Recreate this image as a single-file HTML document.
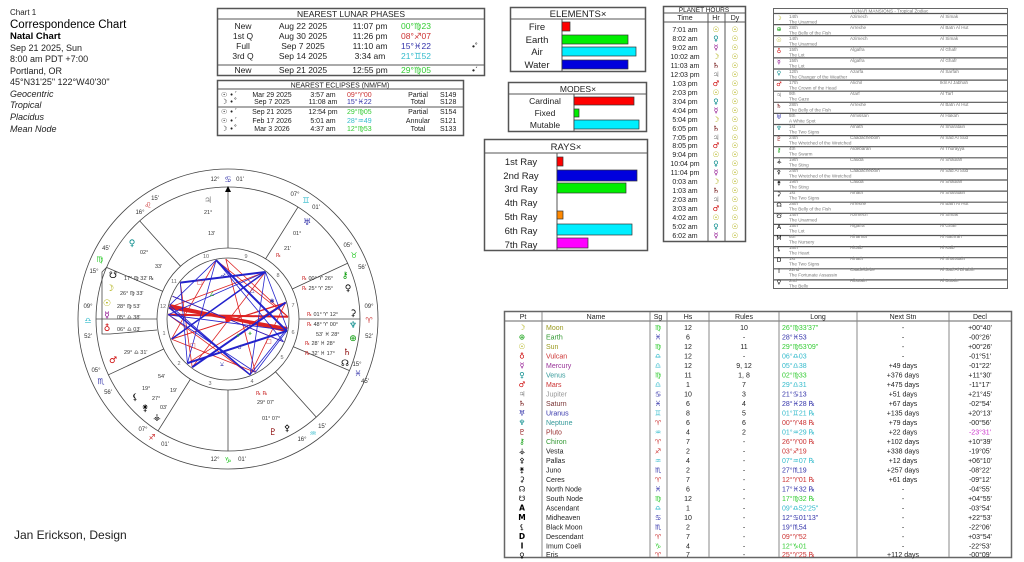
<!DOCTYPE html>
<html><head><meta charset="utf-8"><style>
html,body{margin:0;padding:0;background:#fff;}
svg{display:block;font-family:"Liberation Sans","DejaVu Sans",sans-serif;}
.g{font-family:"DejaVu Sans",sans-serif;}
</style></head><body>
<svg width="1024" height="562" viewBox="0 0 1024 562" xmlns="http://www.w3.org/2000/svg">
<rect width="1024" height="562" fill="#fff"/>
<!-- left info -->
<g fill="#222" font-size="9">
<text x="10" y="15" font-size="8">Chart 1</text>
<text x="10" y="28" font-size="11.5" fill="#000">Correspondence Chart</text>
<text x="10" y="39" font-size="9.5" font-weight="bold" fill="#000">Natal Chart</text>
<text x="10" y="51">Sep 21 2025, Sun</text>
<text x="10" y="62">8:00 am  PDT +7:00</text>
<text x="10" y="74">Portland, OR</text>
<text x="10" y="85">45°N31'25" 122°W40'30"</text>
<g font-style="italic"><text x="10" y="97">Geocentric</text><text x="10" y="108">Tropical</text><text x="10" y="120">Placidus</text><text x="10" y="132">Mean Node</text></g>
<text x="14" y="539" font-size="12">Jan Erickson, Design</text>
</g>

<!-- Lunar phases -->
<g font-size="8.5" fill="#222">
<rect x="217.5" y="8.5" width="267" height="67" fill="#fff" stroke="#555" stroke-width="1.5"/>
<line x1="217" y1="19" x2="485" y2="19" stroke="#555"/>
<line x1="217" y1="65" x2="485" y2="65" stroke="#555"/>
<text x="351" y="17" text-anchor="middle">NEAREST LUNAR PHASES</text>
<g text-anchor="middle">
<text x="243" y="29">New</text><text x="303" y="29">Aug 22 2025</text><text x="370" y="29">11:07 pm</text>
<text x="243" y="39">1st Q</text><text x="303" y="39">Aug 30 2025</text><text x="370" y="39">11:26 pm</text>
<text x="243" y="49">Full</text><text x="303" y="49">Sep 7 2025</text><text x="370" y="49">11:10 am</text>
<text x="243" y="59">3rd Q</text><text x="303" y="59">Sep 14 2025</text><text x="370" y="59">3:34 am</text>
<text x="243" y="73">New</text><text x="303" y="73">Sep 21 2025</text><text x="370" y="73">12:55 pm</text>
</g>
<text x="401" y="29" fill="#3c3">00°♍23</text>
<text x="401" y="39" fill="#c33">08°♐07</text>
<text x="401" y="49" fill="#33a">15°♓22</text>
<text x="401" y="59" fill="#3bc">21°♊52</text>
<text x="401" y="73" fill="#3c3">29°♍05</text>
<text x="472" y="49">•˚</text><text x="472" y="73">•ˊ</text>
</g>

<!-- Eclipses -->
<g font-size="7" fill="#222">
<rect x="217.5" y="80.5" width="246" height="55" fill="#fff" stroke="#555" stroke-width="1.5"/>
<line x1="217" y1="89" x2="464" y2="89" stroke="#555"/>
<line x1="217" y1="107" x2="464" y2="107" stroke="#555"/>
<text x="340" y="87.5" text-anchor="middle">NEAREST ECLIPSES (NM/FM)</text>
<g class="g"><text x="221" y="97">☉ •ˊ</text><text x="221" y="104">☽ •˚</text><text x="221" y="114">☉ •ˊ</text><text x="221" y="123">☉ •ˊ</text><text x="221" y="131">☽ •˚</text></g>
<g text-anchor="middle"><text x="272" y="97">Mar 29 2025</text><text x="272" y="104">Sep 7 2025</text><text x="272" y="114">Sep 21 2025</text><text x="272" y="123">Feb 17 2026</text><text x="272" y="131">Mar 3 2026</text>
<text x="323" y="97">3:57 am</text><text x="323" y="104">11:08 am</text><text x="323" y="114">12:54 pm</text><text x="323" y="123">5:01 am</text><text x="323" y="131">4:37 am</text>
<text x="418" y="97">Partial</text><text x="418" y="104">Total</text><text x="418" y="114">Partial</text><text x="418" y="123">Annular</text><text x="418" y="131">Total</text></g>
<text x="347" y="97" fill="#c33">09°♈00</text><text x="347" y="104" fill="#33a">15°♓22</text><text x="347" y="114" fill="#3c3">29°♍05</text><text x="347" y="123" fill="#3bc">28°♒49</text><text x="347" y="131" fill="#3c3">12°♍53</text>
<text x="440" y="97">S149</text><text x="440" y="104">S128</text><text x="440" y="114">S154</text><text x="440" y="123">S121</text><text x="440" y="131">S133</text>
</g>

<!-- Elements -->
<g font-size="9.5" fill="#222">
<rect x="510.5" y="7.5" width="135" height="64" fill="#fff" stroke="#555" stroke-width="1.5"/>
<line x1="510" y1="19" x2="646" y2="19" stroke="#555"/><line x1="562" y1="19" x2="562" y2="72" stroke="#555"/>
<text x="578" y="17" text-anchor="middle">ELEMENTS×</text>
<g text-anchor="middle"><text x="537" y="30">Fire</text><text x="537" y="43">Earth</text><text x="537" y="55">Air</text><text x="537" y="68">Water</text></g>
<g stroke="#333" stroke-width=".7"><rect x="562" y="22" width="8" height="9" fill="#f00"/><rect x="562" y="35" width="66" height="9" fill="#0e0"/><rect x="562" y="47" width="74" height="9" fill="#0ef"/><rect x="562" y="60" width="66" height="9" fill="#00d"/></g>
</g>
<!-- Modes -->
<g font-size="8.5" fill="#222">
<rect x="508.5" y="82.5" width="138" height="49" fill="#fff" stroke="#555" stroke-width="1.5"/>
<line x1="508" y1="94" x2="647" y2="94" stroke="#555"/><line x1="574" y1="94" x2="574" y2="131" stroke="#555"/>
<text x="578" y="92" text-anchor="middle">MODES×</text>
<g text-anchor="middle"><text x="545" y="104">Cardinal</text><text x="545" y="116">Fixed</text><text x="545" y="128">Mutable</text></g>
<g stroke="#333" stroke-width=".7"><rect x="574" y="97" width="60" height="8" fill="#f00"/><rect x="574" y="109" width="5" height="8" fill="#0e0"/><rect x="574" y="120" width="65" height="9" fill="#0ef"/></g>
</g>
<!-- Rays -->
<g font-size="9.5" fill="#222">
<rect x="484.5" y="139.5" width="163" height="111" fill="#fff" stroke="#555" stroke-width="1.5"/>
<line x1="484" y1="153" x2="648" y2="153" stroke="#555"/><line x1="557" y1="153" x2="557" y2="251" stroke="#555"/>
<text x="566" y="150" text-anchor="middle">RAYS×</text>
<g text-anchor="middle"><text x="521" y="165">1st Ray</text><text x="521" y="179">2nd Ray</text><text x="521" y="192">3rd Ray</text><text x="521" y="206">4th Ray</text><text x="521" y="220">5th Ray</text><text x="521" y="234">6th Ray</text><text x="521" y="248">7th Ray</text></g>
<g stroke="#333" stroke-width=".7"><rect x="557" y="157" width="6" height="9" fill="#f00"/><rect x="557" y="170" width="80" height="11" fill="#00d"/><rect x="557" y="183" width="69" height="10" fill="#0e0"/><rect x="557" y="211" width="6" height="8" fill="#f80"/><rect x="557" y="224" width="75" height="11" fill="#0ef"/><rect x="557" y="238" width="31" height="10" fill="#f0f"/></g>
</g>

<!-- Planet hours -->
<g font-size="7" fill="#222">
<rect x="663.5" y="6.5" width="82" height="235" fill="#fff" stroke="#555" stroke-width="1.5"/>
<line x1="663" y1="13" x2="746" y2="13" stroke="#555"/><line x1="663" y1="22" x2="746" y2="22" stroke="#555"/>
<line x1="708" y1="13" x2="708" y2="241" stroke="#555"/><line x1="725" y1="13" x2="725" y2="241" stroke="#555"/>
<text x="704" y="12" text-anchor="middle" font-size="6.5">PLANET HOURS</text>
<text x="685" y="20" text-anchor="middle">Time</text><text x="716" y="20" text-anchor="middle">Hr</text><text x="735" y="20" text-anchor="middle">Dy</text>
<g text-anchor="middle">
<text x="685" y="32">7:01 am</text><text x="685" y="41">8:02 am</text><text x="685" y="50">9:02 am</text><text x="685" y="59">10:02 am</text><text x="685" y="68">11:03 am</text><text x="685" y="77">12:03 pm</text><text x="685" y="86">1:03 pm</text><text x="685" y="95">2:03 pm</text><text x="685" y="104">3:04 pm</text><text x="685" y="113">4:04 pm</text><text x="685" y="122">5:04 pm</text><text x="685" y="131">6:05 pm</text><text x="685" y="140">7:05 pm</text><text x="685" y="148">8:05 pm</text><text x="685" y="157">9:04 pm</text><text x="685" y="166">10:04 pm</text><text x="685" y="175">11:04 pm</text><text x="685" y="184">0:03 am</text><text x="685" y="193">1:03 am</text><text x="685" y="202">2:03 am</text><text x="685" y="211">3:03 am</text><text x="685" y="220">4:02 am</text><text x="685" y="229">5:02 am</text><text x="685" y="238">6:02 am</text>
</g>
<g class="g" text-anchor="middle" font-size="7.5">
<text x="716" y="32" fill="#aa0">☉</text><text x="716" y="41" fill="#088">♀</text><text x="716" y="50" fill="#808">☿</text><text x="716" y="59" fill="#aa0">☽</text><text x="716" y="68" fill="#600">♄</text><text x="716" y="77" fill="#888">♃</text><text x="716" y="86" fill="#c00">♂</text>
<text x="716" y="95" fill="#aa0">☉</text><text x="716" y="104" fill="#088">♀</text><text x="716" y="113" fill="#808">☿</text><text x="716" y="122" fill="#aa0">☽</text><text x="716" y="131" fill="#600">♄</text><text x="716" y="140" fill="#888">♃</text><text x="716" y="148" fill="#c00">♂</text>
<text x="716" y="157" fill="#aa0">☉</text><text x="716" y="166" fill="#088">♀</text><text x="716" y="175" fill="#808">☿</text><text x="716" y="184" fill="#aa0">☽</text><text x="716" y="193" fill="#600">♄</text><text x="716" y="202" fill="#888">♃</text><text x="716" y="211" fill="#c00">♂</text>
<text x="716" y="220" fill="#aa0">☉</text><text x="716" y="229" fill="#088">♀</text><text x="716" y="238" fill="#808">☿</text>
</g>
<g class="g" text-anchor="middle" font-size="7.5" fill="#aa0">
<text x="735" y="32">☉</text><text x="735" y="41">☉</text><text x="735" y="50">☉</text><text x="735" y="59">☉</text><text x="735" y="68">☉</text><text x="735" y="77">☉</text><text x="735" y="86">☉</text><text x="735" y="95">☉</text><text x="735" y="104">☉</text><text x="735" y="113">☉</text><text x="735" y="122">☉</text><text x="735" y="131">☉</text><text x="735" y="140">☉</text><text x="735" y="148">☉</text><text x="735" y="157">☉</text><text x="735" y="166">☉</text><text x="735" y="175">☉</text><text x="735" y="184">☉</text><text x="735" y="193">☉</text><text x="735" y="202">☉</text><text x="735" y="211">☉</text><text x="735" y="220">☉</text><text x="735" y="229">☉</text><text x="735" y="238">☉</text>
</g>
</g>

<!-- Lunar mansions -->
<g font-size="4.6" fill="#777">
<rect x="773.5" y="8.5" width="234" height="280" fill="#fff" stroke="#666"/>
<text x="890" y="12.5" text-anchor="middle">LUNAR MANSIONS - Tropical Zodiac</text>
<g stroke="#555" stroke-width="1.2">
<line x1="774" y1="13.5" x2="1007" y2="13.5"/><line x1="774" y1="24.6" x2="1007" y2="24.6"/><line x1="774" y1="35.7" x2="1007" y2="35.7"/><line x1="774" y1="46.8" x2="1007" y2="46.8"/><line x1="774" y1="57.9" x2="1007" y2="57.9"/><line x1="774" y1="69" x2="1007" y2="69"/><line x1="774" y1="80.1" x2="1007" y2="80.1"/><line x1="774" y1="91.2" x2="1007" y2="91.2"/><line x1="774" y1="102.3" x2="1007" y2="102.3"/><line x1="774" y1="113.4" x2="1007" y2="113.4"/><line x1="774" y1="124.5" x2="1007" y2="124.5"/><line x1="774" y1="135.6" x2="1007" y2="135.6"/><line x1="774" y1="146.7" x2="1007" y2="146.7"/><line x1="774" y1="157.8" x2="1007" y2="157.8"/><line x1="774" y1="168.9" x2="1007" y2="168.9"/><line x1="774" y1="180" x2="1007" y2="180"/><line x1="774" y1="191.1" x2="1007" y2="191.1"/><line x1="774" y1="202.2" x2="1007" y2="202.2"/><line x1="774" y1="213.3" x2="1007" y2="213.3"/><line x1="774" y1="224.4" x2="1007" y2="224.4"/><line x1="774" y1="235.5" x2="1007" y2="235.5"/><line x1="774" y1="246.6" x2="1007" y2="246.6"/><line x1="774" y1="257.7" x2="1007" y2="257.7"/><line x1="774" y1="268.8" x2="1007" y2="268.8"/><line x1="774" y1="279.9" x2="1007" y2="279.9"/>
</g>
<g class="g" font-size="6" text-anchor="middle">
<text x="779" y="20" fill="#aa0">☽</text><text x="779" y="31" fill="#090">⊕</text><text x="779" y="42" fill="#aa0">☉</text><text x="779" y="53" fill="#c00">♁</text><text x="779" y="64" fill="#808">☿</text><text x="779" y="75" fill="#088">♀</text><text x="779" y="86" fill="#c00">♂</text><text x="779" y="97" fill="#888">♃</text><text x="779" y="108" fill="#600">♄</text><text x="779" y="119" fill="#33a">♅</text><text x="779" y="130" fill="#088">♆</text><text x="779" y="141" fill="#800">♇</text><text x="779" y="152" fill="#090">⚷</text><text x="779" y="163" fill="#000">⚶</text><text x="779" y="174" fill="#000">⚴</text><text x="779" y="185" fill="#000">⚵</text><text x="779" y="196" fill="#000">⚳</text><text x="779" y="207" fill="#000">☊</text><text x="779" y="218" fill="#000">☋</text><text x="779" y="229" fill="#000">A</text><text x="779" y="240" fill="#000">M</text><text x="779" y="251" fill="#000">⚸</text><text x="779" y="262" fill="#000">D</text><text x="779" y="273" fill="#000">I</text><text x="779" y="284" fill="#000">♀</text>
</g>
<g>
<text x="789" y="18">14th</text><text x="850" y="18">Azimech</text><text x="940" y="18">Al Simak</text><text x="789" y="23.5">The Unarmed</text>
<text x="789" y="29">28th</text><text x="850" y="29">Arrexhe</text><text x="940" y="29">Al Batn Al Hut</text><text x="789" y="34.5">The Belly of the Fish</text>
<text x="789" y="40">14th</text><text x="850" y="40">Azimech</text><text x="940" y="40">Al Simak</text><text x="789" y="45.5">The Unarmed</text>
<text x="789" y="51">15th</text><text x="850" y="51">Algafra</text><text x="940" y="51">Al Ghafr</text><text x="789" y="56.5">The Lot</text>
<text x="789" y="62">15th</text><text x="850" y="62">Algafra</text><text x="940" y="62">Al Ghafr</text><text x="789" y="67.5">The Lot</text>
<text x="789" y="73">12th</text><text x="850" y="73">Azarfa</text><text x="940" y="73">Al Sarfah</text><text x="789" y="78.5">The Changer of the Weather</text>
<text x="789" y="84">17th</text><text x="850" y="84">Alichil</text><text x="940" y="84">Iklil Al Jabhah</text><text x="789" y="89.5">The Crown of the Head</text>
<text x="789" y="95">9th</text><text x="850" y="95">Atarf</text><text x="940" y="95">Al Tarf</text><text x="789" y="100.5">The Gaze</text>
<text x="789" y="106">28th</text><text x="850" y="106">Arrexhe</text><text x="940" y="106">Al Batn Al Hut</text><text x="789" y="111.5">The Belly of the Fish</text>
<text x="789" y="117">5th</text><text x="850" y="117">Almissan</text><text x="940" y="117">Al Hakah</text><text x="789" y="122.5">A White Spot</text>
<text x="789" y="128">1st</text><text x="850" y="128">Alnath</text><text x="940" y="128">Al Sharatain</text><text x="789" y="133.5">The Two Signs</text>
<text x="789" y="139">24th</text><text x="850" y="139">Caadachebolh</text><text x="940" y="139">Al Sad Al Sud</text><text x="789" y="144.5">The Wretched of the Wretched</text>
<text x="789" y="150">4th</text><text x="850" y="150">Aldebaran</text><text x="940" y="150">Al Thurayya</text><text x="789" y="155.5">The Swarm</text>
<text x="789" y="161">19th</text><text x="850" y="161">Cauda</text><text x="940" y="161">Al Shaulah</text><text x="789" y="166.5">The Sting</text>
<text x="789" y="172">24th</text><text x="850" y="172">Caadachebolh</text><text x="940" y="172">Al Sad Al Sud</text><text x="789" y="177.5">The Wretched of the Wretched</text>
<text x="789" y="183">19th</text><text x="850" y="183">Cauda</text><text x="940" y="183">Al Shaulah</text><text x="789" y="188.5">The Sting</text>
<text x="789" y="194">1st</text><text x="850" y="194">Alnath</text><text x="940" y="194">Al Sharatain</text><text x="789" y="199.5">The Two Signs</text>
<text x="789" y="205">28th</text><text x="850" y="205">Arrexhe</text><text x="940" y="205">Al Batn Al Hut</text><text x="789" y="210.5">The Belly of the Fish</text>
<text x="789" y="216">14th</text><text x="850" y="216">Azimech</text><text x="940" y="216">Al Simak</text><text x="789" y="221.5">The Unarmed</text>
<text x="789" y="227">15th</text><text x="850" y="227">Algafra</text><text x="940" y="227">Al Ghafr</text><text x="789" y="232.5">The Lot</text>
<text x="789" y="238">6th</text><text x="850" y="238">Alhanna</text><text x="940" y="238">Al Nathrah</text><text x="789" y="243.5">The Nursery</text>
<text x="789" y="249">18th</text><text x="850" y="249">Alcalb</text><text x="940" y="249">Al Kalb</text><text x="789" y="254.5">The Heart</text>
<text x="789" y="260">1st</text><text x="850" y="260">Alnath</text><text x="940" y="260">Al Sharatain</text><text x="789" y="265.5">The Two Signs</text>
<text x="789" y="271">22nd</text><text x="850" y="271">Caadeldebe</text><text x="940" y="271">Al Sad Al Dhabih</text><text x="789" y="276.5">The Fortunate Assassin</text>
<text x="789" y="282">2nd</text><text x="850" y="282">Albotain</text><text x="940" y="282">Al Butain</text><text x="789" y="287.5">The Belly</text>
</g>
</g>

<!-- Planet table -->
<g font-size="7" fill="#222">
<rect x="504.5" y="311.5" width="507" height="246" fill="#fff" stroke="#666" stroke-width="1.5"/>
<line x1="504" y1="321" x2="1012" y2="321" stroke="#666"/>
<g stroke="#888"><line x1="542" y1="312" x2="542" y2="557"/><line x1="650" y1="312" x2="650" y2="557"/><line x1="667" y1="312" x2="667" y2="557"/><line x1="709" y1="312" x2="709" y2="557"/><line x1="779" y1="312" x2="779" y2="557"/><line x1="857" y1="312" x2="857" y2="557"/><line x1="949" y1="312" x2="949" y2="557"/></g>
<g text-anchor="middle"><text x="523" y="319">Pt</text><text x="596" y="319">Name</text><text x="658" y="319">Sg</text><text x="688" y="319">Hs</text><text x="744" y="319">Rules</text><text x="818" y="319">Long</text><text x="903" y="319">Next Stn</text><text x="980" y="319">Decl</text></g>
<g class="g" text-anchor="middle" font-size="7.5">
<text x="522" y="330" fill="#aa0">☽</text><text x="522" y="339.5" fill="#090">⊕</text><text x="522" y="349" fill="#aa0">☉</text><text x="522" y="358.5" fill="#c00">♁</text><text x="522" y="368" fill="#808">☿</text><text x="522" y="377.5" fill="#088">♀</text><text x="522" y="387" fill="#c00">♂</text><text x="522" y="396.5" fill="#888">♃</text><text x="522" y="406" fill="#600">♄</text><text x="522" y="415.5" fill="#33a">♅</text><text x="522" y="425" fill="#088">♆</text><text x="522" y="434.5" fill="#800">♇</text><text x="522" y="444" fill="#090">⚷</text><text x="522" y="453.5" fill="#000">⚶</text><text x="522" y="463" fill="#000">⚴</text><text x="522" y="472.5" fill="#000">⚵</text><text x="522" y="482" fill="#000">⚳</text><text x="522" y="491.5" fill="#000">☊</text><text x="522" y="501" fill="#000">☋</text><text x="522" y="510.5" fill="#000" font-weight="bold">A</text><text x="522" y="520" fill="#000" font-weight="bold">M</text><text x="522" y="529.5" fill="#000">⚸</text><text x="522" y="539" fill="#000" font-weight="bold">D</text><text x="522" y="548.5" fill="#000" font-weight="bold">I</text><text x="522" y="558" fill="#000">♀</text>
</g>
<g>
<text x="546" y="330" fill="#9a9a20">Moon</text><text x="546" y="339.5" fill="#393">Earth</text><text x="546" y="349" fill="#9a9a20">Sun</text><text x="546" y="358.5" fill="#c33">Vulcan</text><text x="546" y="368" fill="#939">Mercury</text><text x="546" y="377.5" fill="#399">Venus</text><text x="546" y="387" fill="#c33">Mars</text><text x="546" y="396.5" fill="#999">Jupiter</text><text x="546" y="406" fill="#733">Saturn</text><text x="546" y="415.5" fill="#33a">Uranus</text><text x="546" y="425" fill="#399">Neptune</text><text x="546" y="434.5" fill="#933">Pluto</text><text x="546" y="444" fill="#393">Chiron</text><text x="546" y="453.5">Vesta</text><text x="546" y="463">Pallas</text><text x="546" y="472.5">Juno</text><text x="546" y="482">Ceres</text><text x="546" y="491.5">North Node</text><text x="546" y="501">South Node</text><text x="546" y="510.5">Ascendant</text><text x="546" y="520">Midheaven</text><text x="546" y="529.5">Black Moon</text><text x="546" y="539">Descendant</text><text x="546" y="548.5">Imum Coeli</text><text x="546" y="558" dy="-1">Eris</text>
</g>
<g class="g" text-anchor="middle">
<text x="658" y="330" fill="#3c3">♍</text><text x="658" y="339.5" fill="#33a">♓</text><text x="658" y="349" fill="#3c3">♍</text><text x="658" y="358.5" fill="#3bc">♎</text><text x="658" y="368" fill="#3bc">♎</text><text x="658" y="377.5" fill="#3c3">♍</text><text x="658" y="387" fill="#3bc">♎</text><text x="658" y="396.5" fill="#33a">♋</text><text x="658" y="406" fill="#33a">♓</text><text x="658" y="415.5" fill="#3bc">♊</text><text x="658" y="425" fill="#c33">♈</text><text x="658" y="434.5" fill="#3bc">♒</text><text x="658" y="444" fill="#c33">♈</text><text x="658" y="453.5" fill="#c33">♐</text><text x="658" y="463" fill="#3bc">♒</text><text x="658" y="472.5" fill="#33a">♏</text><text x="658" y="482" fill="#c33">♈</text><text x="658" y="491.5" fill="#33a">♓</text><text x="658" y="501" fill="#3c3">♍</text><text x="658" y="510.5" fill="#3bc">♎</text><text x="658" y="520" fill="#33a">♋</text><text x="658" y="529.5" fill="#33a">♏</text><text x="658" y="539" fill="#c33">♈</text><text x="658" y="548.5" fill="#3c3">♑</text><text x="658" y="557" fill="#c33">♈</text>
</g>
<g text-anchor="middle">
<text x="688" y="330">12</text><text x="688" y="339.5">6</text><text x="688" y="349">12</text><text x="688" y="358.5">12</text><text x="688" y="368">12</text><text x="688" y="377.5">11</text><text x="688" y="387">1</text><text x="688" y="396.5">10</text><text x="688" y="406">6</text><text x="688" y="415.5">8</text><text x="688" y="425">6</text><text x="688" y="434.5">4</text><text x="688" y="444">7</text><text x="688" y="453.5">2</text><text x="688" y="463">4</text><text x="688" y="472.5">2</text><text x="688" y="482">7</text><text x="688" y="491.5">6</text><text x="688" y="501">12</text><text x="688" y="510.5">1</text><text x="688" y="520">10</text><text x="688" y="529.5">2</text><text x="688" y="539">7</text><text x="688" y="548.5">4</text><text x="688" y="557">7</text>
<text x="744" y="330">10</text><text x="744" y="339.5">-</text><text x="744" y="349">11</text><text x="744" y="358.5">-</text><text x="744" y="368">9, 12</text><text x="744" y="377.5">1, 8</text><text x="744" y="387">7</text><text x="744" y="396.5">3</text><text x="744" y="406">4</text><text x="744" y="415.5">5</text><text x="744" y="425">6</text><text x="744" y="434.5">2</text><text x="744" y="444">-</text><text x="744" y="453.5">-</text><text x="744" y="463">-</text><text x="744" y="472.5">-</text><text x="744" y="482">-</text><text x="744" y="491.5">-</text><text x="744" y="501">-</text><text x="744" y="510.5">-</text><text x="744" y="520">-</text><text x="744" y="529.5">-</text><text x="744" y="539">-</text><text x="744" y="548.5">-</text><text x="744" y="557">-</text>
<text x="903" y="330">-</text><text x="903" y="339.5">-</text><text x="903" y="349">-</text><text x="903" y="358.5">-</text><text x="903" y="368">+49 days</text><text x="903" y="377.5">+376 days</text><text x="903" y="387">+475 days</text><text x="903" y="396.5">+51 days</text><text x="903" y="406">+67 days</text><text x="903" y="415.5">+135 days</text><text x="903" y="425">+79 days</text><text x="903" y="434.5">+22 days</text><text x="903" y="444">+102 days</text><text x="903" y="453.5">+338 days</text><text x="903" y="463">+12 days</text><text x="903" y="472.5">+257 days</text><text x="903" y="482">+61 days</text><text x="903" y="491.5">-</text><text x="903" y="501">-</text><text x="903" y="510.5">-</text><text x="903" y="520">-</text><text x="903" y="529.5">-</text><text x="903" y="539">-</text><text x="903" y="548.5">-</text><text x="903" y="557">+112 days</text>
<text x="980" y="330">+00°40'</text><text x="980" y="339.5">-00°26'</text><text x="980" y="349">+00°26'</text><text x="980" y="358.5">-01°51'</text><text x="980" y="368">-01°22'</text><text x="980" y="377.5">+11°30'</text><text x="980" y="387">-11°17'</text><text x="980" y="396.5">+21°45'</text><text x="980" y="406">-02°54'</text><text x="980" y="415.5">+20°13'</text><text x="980" y="425">-00°56'</text><text x="980" y="434.5" fill="#c3c">-23°31'</text><text x="980" y="444">+10°39'</text><text x="980" y="453.5">-19°05'</text><text x="980" y="463">+06°10'</text><text x="980" y="472.5">-08°22'</text><text x="980" y="482">-09°12'</text><text x="980" y="491.5">-04°55'</text><text x="980" y="501">+04°55'</text><text x="980" y="510.5">-03°54'</text><text x="980" y="520">+22°53'</text><text x="980" y="529.5">-22°06'</text><text x="980" y="539">+03°54'</text><text x="980" y="548.5">-22°53'</text><text x="980" y="557">-00°09'</text>
</g>
<g>
<text x="782" y="330" fill="#3c3">26°♍33'37"</text><text x="782" y="339.5" fill="#33a">28°♓53</text><text x="782" y="349" fill="#3c3">29°♍53'09"</text><text x="782" y="358.5" fill="#3bc">06°♎03</text><text x="782" y="368" fill="#3bc">05°♎38</text><text x="782" y="377.5" fill="#3c3">02°♍33</text><text x="782" y="387" fill="#3bc">29°♎31</text><text x="782" y="396.5" fill="#33a">21°♋13</text><text x="782" y="406" fill="#33a">28°♓28 ℞</text><text x="782" y="415.5" fill="#3bc">01°♊21 ℞</text><text x="782" y="425" fill="#c33">00°♈48 ℞</text><text x="782" y="434.5" fill="#3bc">01°♒29 ℞</text><text x="782" y="444" fill="#c33">26°♈00 ℞</text><text x="782" y="453.5" fill="#c33">03°♐19</text><text x="782" y="463" fill="#3bc">07°♒07 ℞</text><text x="782" y="472.5" fill="#33a">27°♏19</text><text x="782" y="482" fill="#c33">12°♈01 ℞</text><text x="782" y="491.5" fill="#33a">17°♓32 ℞</text><text x="782" y="501" fill="#3c3">17°♍32 ℞</text><text x="782" y="510.5" fill="#3bc">09°♎52'25"</text><text x="782" y="520" fill="#33a">12°♋01'13"</text><text x="782" y="529.5" fill="#33a">19°♏54</text><text x="782" y="539" fill="#c33">09°♈52</text><text x="782" y="548.5" fill="#3c3">12°♑01</text><text x="782" y="557" fill="#c33">25°♈25 ℞</text>
</g>
</g>

<!-- Wheel -->
<g fill="none" stroke="#444" stroke-width="0.8">
<circle cx="228" cy="319" r="150"/><circle cx="228" cy="319" r="132"/><circle cx="228" cy="319" r="71"/><circle cx="228" cy="319" r="61"/>
<line x1="157" y1="319" x2="96" y2="319"/><line x1="163.7" y1="349" x2="108.4" y2="374.8"/><line x1="190.4" y1="379.2" x2="158" y2="430.9"/><line x1="228" y1="390" x2="228" y2="451"/><line x1="275.5" y1="371.8" x2="316.3" y2="417.1"/><line x1="293.4" y1="346.8" x2="349.5" y2="370.6"/><line x1="299" y1="319" x2="360" y2="319"/><line x1="292.3" y1="289" x2="347.6" y2="263.2"/><line x1="265.6" y1="258.8" x2="298" y2="207.1"/><line x1="228" y1="248" x2="228" y2="190"/><line x1="180.5" y1="266.2" x2="139.7" y2="220.9"/><line x1="162.6" y1="291.2" x2="106.5" y2="267.4"/>
<polyline points="106.5,267.4 102,272 102,334 110,334 157,330"/>
</g>
<path d="M228 186 l-3 6 h6z" fill="#000"/>
<g font-size="5.5" fill="#666" text-anchor="middle">
<text x="164" y="335">1</text><text x="179" y="365">2</text><text x="210" y="385">3</text><text x="252" y="383">4</text><text x="282" y="359">5</text><text x="293" y="334">6</text><text x="293" y="307">7</text><text x="278" y="277">8</text><text x="246" y="258">9</text><text x="206" y="258">10</text><text x="174" y="283">11</text><text x="163" y="308">12</text>
</g>
<!-- zodiac labels -->
<g font-size="6" fill="#333" text-anchor="middle">
<text x="215" y="181">12°</text><text x="240" y="181">01'</text><text x="215" y="461">12°</text><text x="242" y="461">01'</text>
<text x="88" y="308">09°</text><text x="88" y="338">52'</text><text x="369" y="308">09°</text><text x="369" y="338">52'</text>
<text x="140" y="214">16°</text><text x="155" y="200">15'</text><text x="106" y="250">45'</text><text x="94" y="273">15°</text>
<text x="96" y="372">05°</text><text x="108" y="394">56'</text><text x="143" y="431">07°</text><text x="165" y="446">01'</text>
<text x="302" y="441">16°</text><text x="322" y="428">15'</text><text x="357" y="366">15°</text><text x="365" y="383">45'</text>
<text x="348" y="247">05°</text><text x="362" y="269">56'</text><text x="295" y="196">07°</text><text x="316" y="209">01'</text>
</g>
<g class="g" font-size="8" text-anchor="middle">
<text x="228" y="182" fill="#33a">♋</text><text x="228" y="463" fill="#3c3">♑</text><text x="88" y="323" fill="#3bc">♎</text><text x="369" y="323" fill="#c33">♈</text>
<text x="148" y="208" fill="#c33">♌</text><text x="100" y="262" fill="#3c3">♍</text><text x="101" y="384" fill="#33a">♏</text><text x="152" y="440" fill="#c33">♐</text><text x="313" y="436" fill="#3bc">♒</text><text x="358" y="376" fill="#33a">♓</text><text x="354" y="258" fill="#3c3">♉</text><text x="306" y="203" fill="#3bc">♊</text>
</g>
<!-- aspect lines -->
<g stroke="#d22" stroke-width="0.8" fill="none">
<line x1="169.1" y1="307.5" x2="287.2" y2="328.5" stroke-width="3"/>
<line x1="169.6" y1="305.2" x2="286.8" y2="330.9" stroke-width="2.5"/>
<line x1="168.2" y1="314.6" x2="288" y2="316.8" stroke-width="2"/>
<line x1="172.5" y1="296.3" x2="283.5" y2="341.7"/>
<line x1="171.5" y1="339.1" x2="285.7" y2="302.4"/>
<line x1="171.5" y1="339.1" x2="285.8" y2="303"/>
<line x1="169.1" y1="307.5" x2="265.4" y2="272"/>
<line x1="216.1" y1="260.2" x2="171.5" y2="339.1"/>
<line x1="216.1" y1="260.2" x2="288" y2="316.8"/>
<line x1="180.3" y1="282.6" x2="265.4" y2="272"/>
<line x1="180.3" y1="282.6" x2="192.2" y2="367.2"/>
<line x1="192.2" y1="367.2" x2="265.4" y2="272"/>
<line x1="250.1" y1="374.8" x2="285.7" y2="302.4"/>
<line x1="255.4" y1="372.3" x2="171.5" y2="339.1"/>
<line x1="225.8" y1="259" x2="255.4" y2="372.3"/>
<line x1="225.8" y1="259" x2="288" y2="316.8"/>
<line x1="187.4" y1="363.2" x2="285.7" y2="302.4"/>
<line x1="168.2" y1="314.6" x2="250.1" y2="374.8"/>
</g>
<g stroke="#22c" stroke-width="0.8" fill="none">
<line x1="265.4" y1="272" x2="250.1" y2="374.8"/>
<line x1="265.4" y1="272" x2="168.2" y2="314.6"/>
<line x1="168.2" y1="314.6" x2="255.4" y2="372.3"/>
<line x1="169.6" y1="305.2" x2="250.1" y2="374.8"/>
<line x1="216.1" y1="260.2" x2="286.8" y2="330.9" stroke-width="2"/>
<line x1="216.1" y1="260.2" x2="283.5" y2="341.7"/>
<line x1="169.1" y1="307.5" x2="250.1" y2="374.8" stroke-width="1.5"/>
<line x1="169.6" y1="305.2" x2="216.1" y2="260.2"/>
<line x1="287.2" y1="328.5" x2="265.4" y2="272"/>
<line x1="287.2" y1="328.5" x2="250.1" y2="374.8"/>
<line x1="286.8" y1="330.9" x2="255.4" y2="372.3"/>
<line x1="192.2" y1="367.2" x2="285.7" y2="302.4" stroke-width="2"/>
<line x1="192.2" y1="367.2" x2="285.8" y2="303"/>
<line x1="187.4" y1="363.2" x2="286.8" y2="330.9" stroke-width="2"/>
<line x1="187.4" y1="363.2" x2="216.1" y2="260.2"/>
<line x1="171.5" y1="339.1" x2="265.4" y2="272" stroke-width="1.5"/>
<line x1="180.3" y1="282.6" x2="265.4" y2="272" stroke-width="2"/>
<line x1="172.5" y1="296.3" x2="283.5" y2="341.7"/>
<line x1="168.1" y1="314.8" x2="286.9" y2="330.4"/>
<line x1="180.3" y1="282.6" x2="187.4" y2="363.2"/>
</g>
<circle cx="228" cy="319" r="3" fill="#e22"/>
<g class="g" font-size="6" text-anchor="middle">
<text x="200" y="284" fill="#c33">□</text><text x="223" y="278" fill="#33a">♂</text><text x="252" y="292" fill="#33a">△</text><text x="212" y="296" fill="#3a3">∠</text><text x="238" y="337" fill="#3a3">⚹</text><text x="250" y="335" fill="#3a3">⚹</text><text x="240" y="349" fill="#33a">♂</text><text x="222" y="366" fill="#33a">⚺</text><text x="272" y="303" fill="#33a">✱</text><text x="269" y="343" fill="#c33">□</text><text x="193" y="347" fill="#c33">□</text>
</g>
<!-- planets in wheel -->
<g class="g" font-size="9" text-anchor="middle">
<text x="208" y="203" fill="#888">♃</text><text x="132" y="246" fill="#088">♀</text><text x="113" y="278" fill="#000">☋</text><text x="110" y="291" fill="#aa0">☽</text><text x="107" y="306" fill="#aa0">☉</text><text x="107" y="318" fill="#808">☿</text><text x="107" y="331" fill="#c00">♁</text><text x="113" y="363" fill="#c00">♂</text>
<text x="135" y="400" fill="#000">⚸</text><text x="145" y="411" fill="#000">⚵</text><text x="157" y="420" fill="#000">⚶</text><text x="273" y="435" fill="#800">♇</text><text x="287" y="431" fill="#000">⚴</text>
<text x="345" y="278" fill="#090">⚷</text><text x="348" y="291" fill="#000">♀</text><text x="353" y="316" fill="#000">⚳</text><text x="353" y="328" fill="#088">♆</text><text x="353" y="341" fill="#090">⊕</text><text x="347" y="355" fill="#800">♄</text><text x="345" y="366" fill="#000">☊</text><text x="307" y="225" fill="#33a">♅</text>
</g>
<g font-size="5.5" fill="#333">
<text x="204" y="214">21°</text><text x="208" y="235">13'</text><text x="140" y="254">02°</text><text x="155" y="268">33'</text>
<text x="124" y="280">17° ♍ 32' ℞</text><text x="120" y="295">26° ♍ 33'</text><text x="117" y="308">28° ♍ 53'</text><text x="117" y="319">05° ♎ 38'</text><text x="117" y="331">06° ♎ 03'</text><text x="124" y="354">29° ♎ 31'</text>
<text x="158" y="378">54'</text><text x="142" y="390">19°</text><text x="170" y="392">19'</text><text x="152" y="400">27°</text><text x="160" y="409">03'</text>
<text x="256" y="395" fill="#c33">℞ ℞</text><text x="257" y="404">29° 07'</text><text x="262" y="420">01° 07°</text>
<text x="302" y="280"><tspan fill="#c33">℞</tspan> 00° ♈ 26°</text><text x="302" y="290"><tspan fill="#c33">℞</tspan> 25° ♈ 25°</text><text x="307" y="316"><tspan fill="#c33">℞</tspan> 01° ♈ 12°</text><text x="307" y="326"><tspan fill="#c33">℞</tspan> 48° ♈ 00°</text><text x="316" y="336">53' ♓ 28°</text><text x="305" y="345"><tspan fill="#c33">℞</tspan> 28' ♓ 28°</text><text x="305" y="355"><tspan fill="#c33">℞</tspan> 32' ♓ 17°</text>
<text x="293" y="235">01°</text><text x="284" y="250">21'</text><text x="276" y="257" fill="#c33">℞</text>
</g>
</svg>
</body></html>
